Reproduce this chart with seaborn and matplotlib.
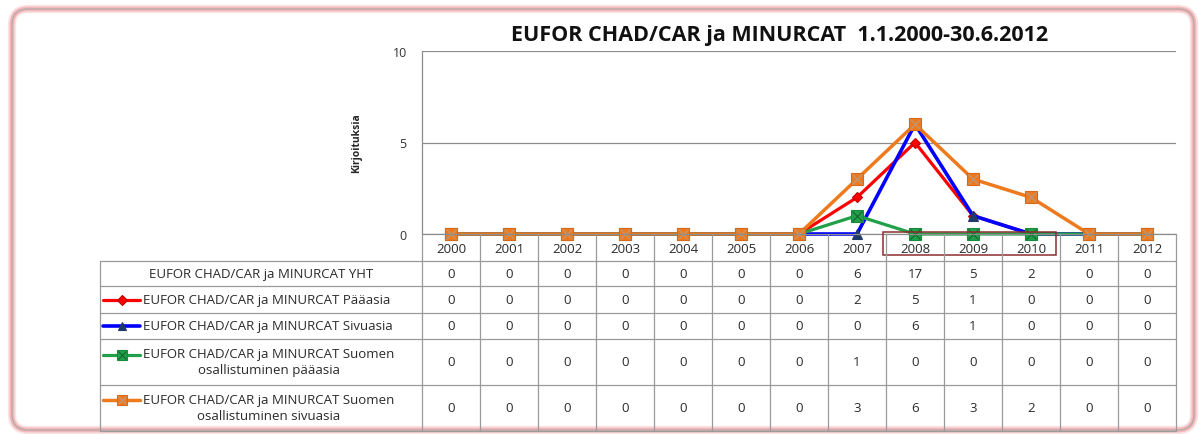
import matplotlib
matplotlib.use("Agg")
import matplotlib.pyplot as plt
from matplotlib.patches import FancyBboxPatch, Rectangle
import seaborn as sns
import pandas as pd

years = ["2000", "2001", "2002", "2003", "2004", "2005", "2006",
         "2007", "2008", "2009", "2010", "2011", "2012"]
yht = [0, 0, 0, 0, 0, 0, 0, 6, 17, 5, 2, 0, 0]
paaasia = [0, 0, 0, 0, 0, 0, 0, 2, 5, 1, 0, 0, 0]
sivuasia = [0, 0, 0, 0, 0, 0, 0, 0, 6, 1, 0, 0, 0]
suomen_paaasia = [0, 0, 0, 0, 0, 0, 0, 1, 0, 0, 0, 0, 0]
suomen_sivuasia = [0, 0, 0, 0, 0, 0, 0, 3, 6, 3, 2, 0, 0]

row_labels = [
    "EUFOR CHAD/CAR ja MINURCAT YHT",
    "EUFOR CHAD/CAR ja MINURCAT Pääasia",
    "EUFOR CHAD/CAR ja MINURCAT Sivuasia",
    "EUFOR CHAD/CAR ja MINURCAT Suomen\nosallistuminen pääasia",
    "EUFOR CHAD/CAR ja MINURCAT Suomen\nosallistuminen sivuasia",
]
title = "EUFOR CHAD/CAR ja MINURCAT  1.1.2000-30.6.2012"

# series styles (None = row not drawn in chart); xc = colour of the cross inside the marker
styles = [
    None,
    dict(color="#FF0000", marker="D", ms=5.5, mfc="#FF0000", mec="#C00000", lw=2.3, xc=None),
    dict(color="#0000FF", marker="^", ms=7, mfc="#1F3A68", mec="#1F3A68", lw=2.6, xc=None),
    dict(color="#1FA049", marker="s", ms=9, mfc="#1FA049", mec="#1A8A3E", lw=2.3, xc="#145A2A"),
    dict(color="#EE7A1E", marker="s", ms=9, mfc="#EE7A1E", mec="#D8691A", lw=2.5, xc="#B0A090"),
]
series = [yht, paaasia, sivuasia, suomen_paaasia, suomen_sivuasia]

W, H = 1199, 435
sns.set_theme(style="white")
plt.rcParams["font.family"] = ["Open Sans", "DejaVu Sans"]
fig = plt.figure(figsize=(W / 100, H / 100), dpi=100)


def px_axes(x0, y0, x1, y1):
    return fig.add_axes([x0 / W, 1 - y1 / H, (x1 - x0) / W, (y1 - y0) / H])


# background frame with soft pink glow
bg = px_axes(0, 0, W, H)
bg.set_xlim(0, W)
bg.set_ylim(H, 0)
bg.axis("off")
for lw, col in [(6, "#FBE3E4"), (3.5, "#F3B8BA"), (1.0, "#B8A8A8")]:
    bg.add_patch(FancyBboxPatch((12, 10), 1182, 421,
                                boxstyle="round,pad=0,rounding_size=16",
                                fc="white" if lw == 6 else "none", ec=col, lw=lw))

# chart
ax = px_axes(422, 52, 1176, 235)
df = pd.DataFrame({"year": years})
for vals, st in zip(series, styles):
    if st is None:
        continue
    df["v"] = vals
    sns.lineplot(data=df, x="year", y="v", ax=ax, color=st["color"], lw=st["lw"],
                 marker=st["marker"], markersize=st["ms"], markerfacecolor=st["mfc"],
                 markeredgecolor=st["mec"], markeredgewidth=0.8, clip_on=False)
    if st["xc"]:
        ax.plot(years, vals, ls="none", marker="x", ms=st["ms"] * 0.75,
                mec=st["xc"], mew=0.7, clip_on=False)
ax.set_xlim(-0.5, len(years) - 0.5)
ax.set_ylim(0, 10)
ax.set_yticks([0, 5, 10])
ax.yaxis.grid(True, color="#8C8C8C", lw=0.9)
ax.set_axisbelow(True)
ax.set_xticks([])
ax.set_xlabel("")
ax.set_ylabel("Kirjoituksia", fontsize=7.5, fontweight="bold", labelpad=22)
ax.tick_params(axis="y", labelsize=9, length=0, pad=11, colors="#333333")
for s in ["top", "right"]:
    ax.spines[s].set_visible(False)
for s in ["left", "bottom"]:
    ax.spines[s].set_color("#8C8C8C")
    ax.spines[s].set_linewidth(0.9)
fig.text(780 / W, 1 - 35 / H, title, ha="center", va="center",
         fontsize=15.5, fontweight="bold", color="#111111")

# data table below the chart
tab = px_axes(100, 235, 1176, 432)
col_w = 58


def tx(px):
    return (px - 422) / col_w - 0.5


tab.set_xlim(tx(100), tx(1176))
tab.set_ylim(432, 235)
tab.axis("off")
row_edges = [235, 262, 287, 314, 340, 386, 432]
gc = "#9A9A9A"
tc = "#2A2A2A"
fs = 9.5
n = len(years)
for y in row_edges[1:]:
    tab.plot([tx(100), tx(1176)], [y, y], color=gc, lw=0.9, clip_on=False)
tab.plot([tx(100), tx(100)], [row_edges[1], row_edges[-1]], color=gc, lw=0.9, clip_on=False)
for i in range(n + 1):
    tab.plot([i - 0.5, i - 0.5], [row_edges[0], row_edges[-1]], color=gc, lw=0.9, clip_on=False)
for i, yr in enumerate(years):
    tab.text(i, (row_edges[0] + row_edges[1]) / 2 + 1, yr, ha="center", va="center",
             fontsize=fs, color=tc)
for r, (lab, vals, st) in enumerate(zip(row_labels, series, styles)):
    yc = (row_edges[r + 1] + row_edges[r + 2]) / 2
    for i, v in enumerate(vals):
        tab.text(i, yc, str(v), ha="center", va="center", fontsize=fs, color=tc)
    if st is None:
        tab.text(tx(261), yc, lab, ha="center", va="center", fontsize=fs, color=tc)
    else:
        ky = yc - 7.5 if "\n" in lab else yc
        tab.plot([tx(103), tx(140)], [ky, ky], color=st["color"], lw=st["lw"], clip_on=False)
        tab.plot([tx(121.5)], [ky], ls="none", marker=st["marker"], ms=st["ms"] * 0.85,
                 mfc=st["mfc"], mec=st["mec"], mew=0.8, clip_on=False)
        if st["xc"]:
            tab.plot([tx(121.5)], [ky], ls="none", marker="x", ms=st["ms"] * 0.6,
                     mec=st["xc"], mew=0.7, clip_on=False)
        tab.text(tx(143), yc, lab, ha="left", va="center", fontsize=fs,
                 color=tc, linespacing=1.3, multialignment="center")

# highlight box around 2008-2010
tab.add_patch(Rectangle((years.index("2008") - 0.55, 233), 2.98, 23, fill=False,
                        ec="#8B2D2D", lw=1.1, clip_on=False))

fig.savefig("out.png", dpi=100)
